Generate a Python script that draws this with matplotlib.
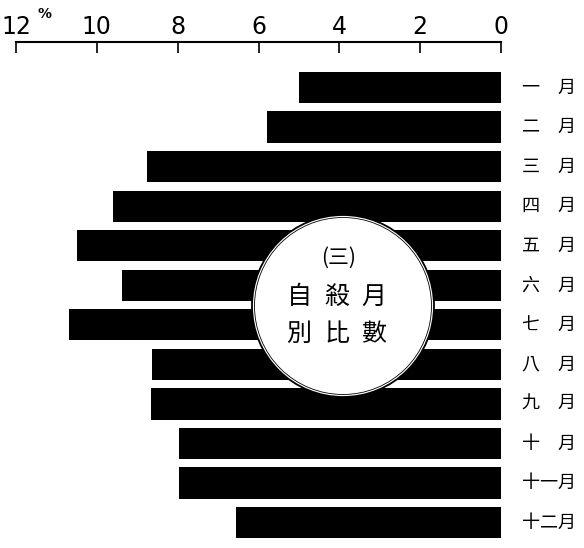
import matplotlib
matplotlib.use("Agg")
import matplotlib.pyplot as plt
from matplotlib.patches import Ellipse

# monthly share of suicides (%)
months = ["一\u3000月", "二\u3000月", "三\u3000月", "四\u3000月", "五\u3000月", "六\u3000月",
          "七\u3000月", "八\u3000月", "九\u3000月", "十\u3000月", "十一月", "十二月"]
percent = [5.0, 5.79, 8.76, 9.6, 10.5, 9.38, 10.69, 8.64, 8.66, 7.97, 7.97, 6.56]
tick_values = [12, 10, 8, 6, 4, 2, 0]
tick_labels = ["12", "10", "8", "6", "4", "2", "0"]
title_rows = ["自殺月", "別比數"]

cjk = ["Noto Sans CJK TC", "DejaVu Sans"]

W, H = 584, 548
fig = plt.figure(figsize=(W / 100, H / 100), dpi=100)
# axes placed so 12% sits at px 16 and 0 at px 501, top spine at px 42
ax = fig.add_axes([16 / W, 0, 485 / W, 1 - 42 / H])

rows = list(range(len(months)))
ax.barh(rows, percent, height=0.79, color="black", zorder=2)
ax.set_xlim(12, 0)
ax.set_ylim(11.64, -1.15)

# axis on top only
for side in ["left", "right", "bottom"]:
    ax.spines[side].set_visible(False)
ax.spines["top"].set_linewidth(1.5)
ax.xaxis.set_ticks_position("top")
ax.set_xticks(tick_values)
ax.set_xticklabels(tick_labels)
ax.tick_params(axis="x", direction="in", length=8, width=1.2, pad=2, labelsize=17)
ax.set_yticks([])
ax.text(11.3, 1.055, "%", transform=ax.get_xaxis_transform(), fontsize=10,
        ha="center", va="center", fontweight="bold")

# month names on the right
for i, m in enumerate(months):
    ax.text(-0.52, i, m, ha="left", va="center", fontsize=13, family=cjk, clip_on=False)

# circle with title
cx, cy, r = 343, 306, 91
for rad, lw in [(r, 1.3), (r - 2.5, 0.6)]:
    circ = Ellipse((cx / W, 1 - cy / H), 2 * rad / W, 2 * rad / H, transform=fig.transFigure,
                   facecolor="white", edgecolor="black", linewidth=lw, zorder=5)
    fig.patches.append(circ)

fig.text(339 / W, 1 - 258 / H, "(三)", ha="center", va="center", fontsize=15, family=cjk, zorder=6)
col_x = [299, 337, 374]
row_y = [297, 334]
for row, yy in zip(title_rows, row_y):
    for ch, xx in zip(row, col_x):
        fig.text(xx / W, 1 - yy / H, ch, ha="center", va="center", fontsize=18, family=cjk, zorder=6)

fig.savefig("out.png", dpi=100)
